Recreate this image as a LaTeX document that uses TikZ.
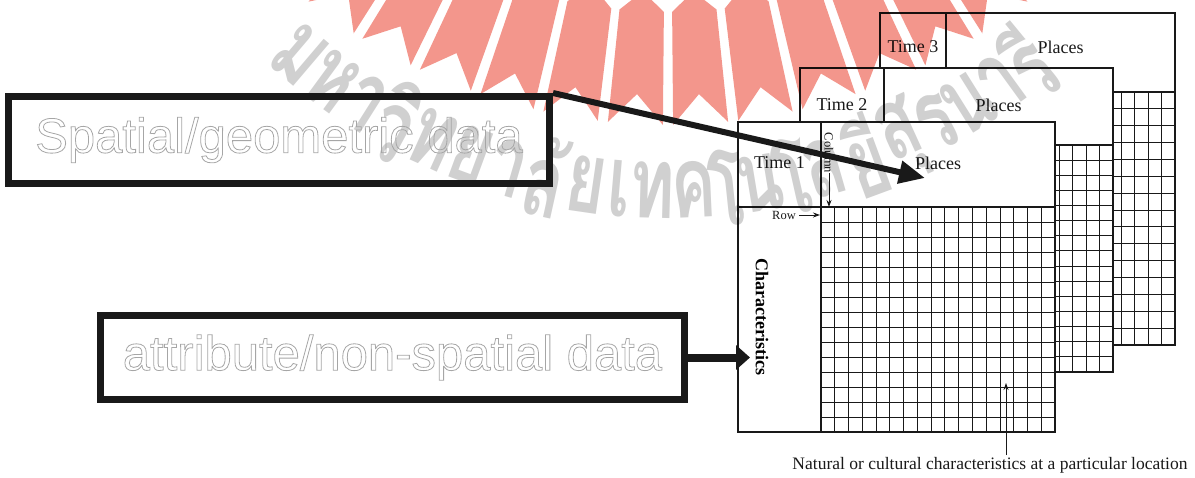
\documentclass[tikz,border=0pt]{standalone}
\usepackage{fontspec}
\setmainfont{Liberation Serif}
\newfontfamily\arialfont{Liberation Sans}
\newfontfamily\thaifont[Script=Thai, FakeStretch=0.68]{Loma}
\usetikzlibrary{arrows.meta}
\definecolor{ink}{RGB}{25,25,25}
\definecolor{wmgray}{RGB}{208,208,208}
\definecolor{logopink}{RGB}{243,150,140}
\newcommand\hollowtxt[1]{\special{pdf:literal direct 1 Tr 0.8 w}#1\special{pdf:literal direct 0 Tr}}
\begin{document}
\begin{tikzpicture}[x=1pt,y=-1pt,
  bigbox/.style={draw=ink, line width=7pt, minimum width=541pt, minimum height=87pt, inner sep=0pt},
  hollow/.style={font=\arialfont\fontsize{49}{49}\selectfont, text=black!35},
  sheetline/.style={draw=ink, line width=1.3pt},
  gridline/.style={draw=ink, line width=0.9pt},
  lbl/.style={font=\fontsize{18}{18}\selectfont, inner sep=0pt, text=ink},
  smalllbl/.style={font=\fontsize{12.5}{12.5}\selectfont, inner sep=0pt, text=ink},
  thickarrow/.style={draw=ink, line width=6pt, -{Triangle[length=26pt,width=22pt]}},
  stubarrow/.style={draw=ink, line width=8pt, -{Triangle[length=14pt,width=24pt]}},
  ptr/.style={draw=ink, line width=0.9pt, -{Stealth[length=7pt,width=5pt]}},
  wm/.style={font=\thaifont\bfseries\fontsize{100}{100}\selectfont, text=wmgray, inner sep=0pt},
]
\useasboundingbox (0,0) rectangle (1195,477);

% ---------- stacked sheets (back to front) ----------
\foreach \L/\T/\D/\R/\H/\B/\Y/\n in {880/13/946/1175/92/345/47/3, 800/68/884/1113/145/372/105/2, 738/122/821/1055/207/432/163/1}{
  \fill[white] (\L,\T) rectangle (\R,\B);
  \foreach \i in {1,...,16}{
    \draw[gridline] ({\D+\i*(\R-\D)/17},\H) -- ({\D+\i*(\R-\D)/17},\B);
  }
  \foreach \j in {1,...,14}{
    \draw[gridline] (\D,{\H+\j*(\B-\H)/15}) -- (\R,{\H+\j*(\B-\H)/15});
  }
  \draw[sheetline] (\L,\T) rectangle (\R,\B);
  \draw[sheetline] (\D,\T) -- (\D,\B);
  \draw[sheetline] (\L,\H) -- (\R,\H);
  \node[lbl] (time\n) at ({(\L+\D)/2},\Y) {Time \n};
  \node[lbl] (places\n) at ({(\D+\R)/2},\Y) {Places};
}

% ---------- labels of the front sheet ----------
\node[smalllbl, rotate=-90] (column) at (829,153) {Column};
\coordinate (colend) at (829,207);
\draw[ptr] (column.east) -- (colend);
\node[smalllbl] (row) at (784,215) {Row};
\coordinate (rowend) at (820,215);
\draw[ptr] (row.east) ++(3,0) -- (rowend);
\node[font=\bfseries\fontsize{18}{18}\selectfont, inner sep=0pt, rotate=-90] (charac) at (762,317) {Characteristics};

\node[font=\fontsize{17.5}{17.5}\selectfont, inner sep=0pt, text=ink] (natural) at (990,465) {Natural or cultural characteristics at a particular location};
\coordinate (ptrtip) at (1006,383);
\coordinate (ptrbase) at (1006,455);
\draw[ptr] (ptrbase) -- (ptrtip);

% ---------- watermark (logo rays + university name) ----------
\begin{scope}[blend mode=multiply]
  \foreach \k in {-6,...,5}{
    \pgfmathsetmacro\th{90+(\k+0.5)*6.4}
    \fill[logopink]
      ({668+452*cos(\th)},{-460+452*sin(\th)}) --
      ({668+472*cos(\th-2.7)},{-460+472*sin(\th-2.7)}) --
      ({668+585*cos(\th-2.7)},{-460+585*sin(\th-2.7)}) --
      ({668+555*cos(\th)},{-460+555*sin(\th)}) --
      ({668+585*cos(\th+2.7)},{-460+585*sin(\th+2.7)}) --
      ({668+472*cos(\th+2.7)},{-460+472*sin(\th+2.7)}) -- cycle;
  }
  \foreach \c/\o [count=\m] in {ม/0.5, ห/1.5, า/2.425, วิ/3.325, ท/4.3, ย/5.3, า/6.225, ลั/7.15, ย/8.15, เ/8.95, ท/9.75, ค/10.75, โ/11.55, น/12.35, โ/13.15, ล/13.95, ยี/14.95, สุ/15.95, ร/16.85, น/17.75, า/18.675, รี/19.5}{
    \pgfmathsetmacro\t{132.5-\o*4.2}
    \node[wm, rotate={90-\t}] (wm\m) at ({667.5+567*cos(\t)},{-376.5+567*sin(\t)}) {\c};
  }
\end{scope}

% ---------- the two big boxes and their connectors ----------
\node[bigbox, hollow] (spatial) at (279,140) {\hollowtxt{Spatial/geometric data}};
\node[bigbox, hollow, minimum width=584pt, minimum height=84pt] (attr) at (392.5,357.5) {\hollowtxt{attribute/non-spatial data}};

\coordinate (placestip) at (925,178);
\draw[thickarrow] (spatial.north east) -- (placestip);
\coordinate (sheetin) at (750,357.5);
\draw[stubarrow] (attr.east) -- (sheetin);
\end{tikzpicture}
\end{document}
